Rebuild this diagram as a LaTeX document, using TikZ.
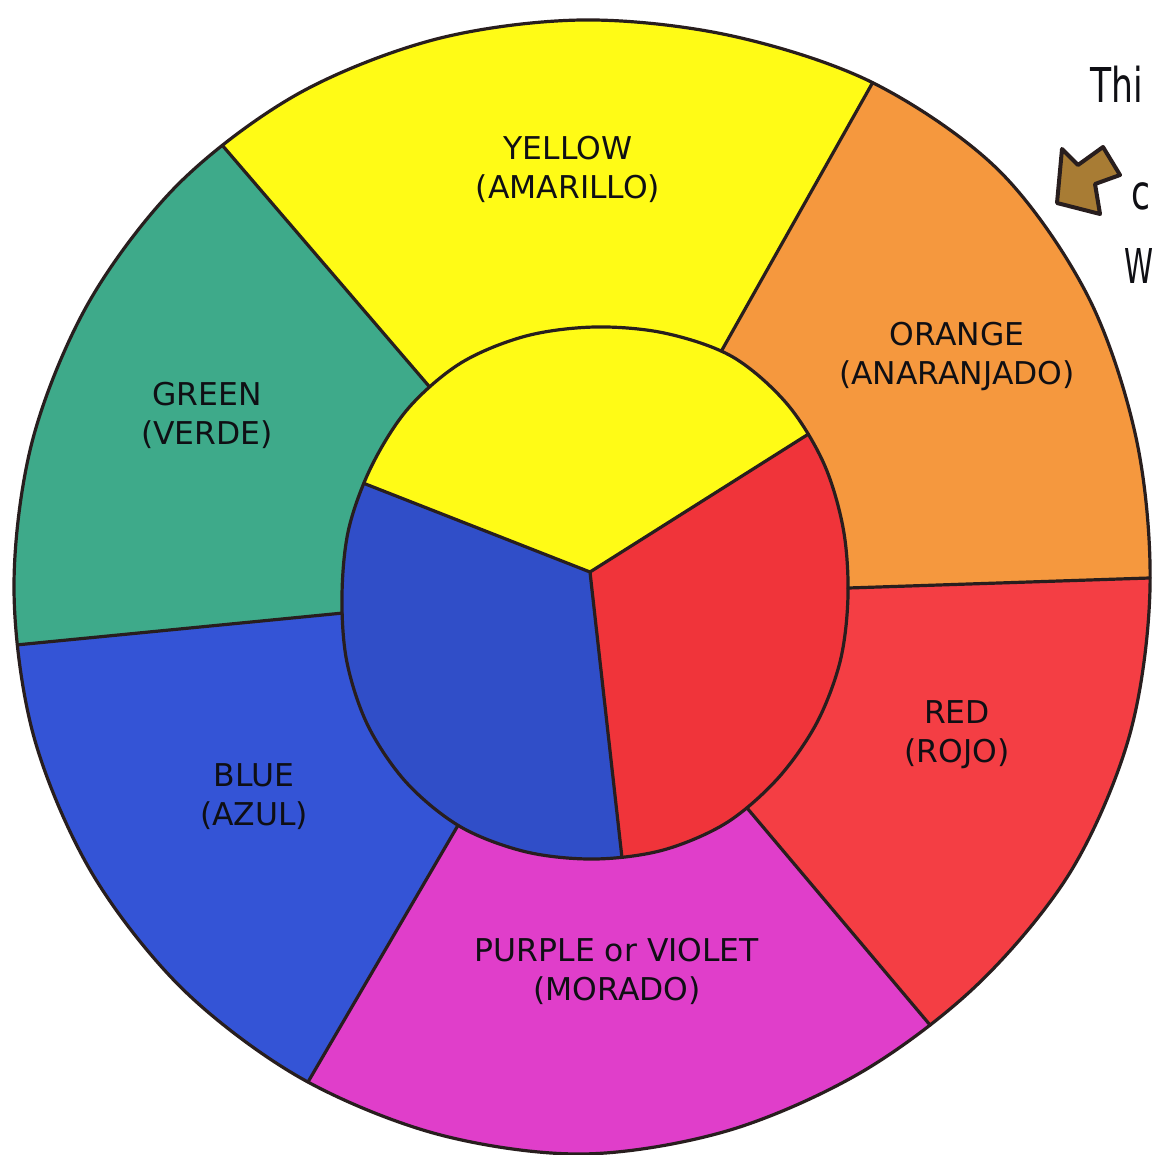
\documentclass[tikz,border=0pt]{standalone}
\usepackage{fontspec}
\setmainfont{DejaVu Sans}
\usetikzlibrary{calc,intersections}
\definecolor{cyel}{RGB}{255,251,22}
\definecolor{corg}{RGB}{245,152,62}
\definecolor{cred}{RGB}{244,62,68}
\definecolor{cpur}{RGB}{224,62,202}
\definecolor{cblu}{RGB}{52,84,214}
\definecolor{cgrn}{RGB}{62,170,138}
\definecolor{ired}{RGB}{240,52,58}
\definecolor{iblu}{RGB}{48,78,200}
\definecolor{linec}{RGB}{40,30,30}
\definecolor{labelc}{RGB}{15,15,20}
\definecolor{arrowc}{RGB}{168,124,52}
\begin{document}
\begin{tikzpicture}[x=0.5pt,y=-0.5pt,
  edge/.style={draw=linec, line width=1.6pt, line join=round, line cap=round},
  lbl/.style={font=\fontsize{15.7}{19.5}\selectfont, align=center, text=labelc, inner sep=0pt},
  hand/.style={font=\fontsize{24}{28}\selectfont, text=labelc, inner sep=0pt, anchor=base west, xscale=0.72}]
\useasboundingbox (0,0) rectangle (1152,1155);
\fill[white] (0,0) rectangle (1152,1155);
\clip (0,0) rectangle (1152,1155);

% wheel outlines (paths only, for intersections)
\path[name path=outer] plot[smooth cycle, tension=0.55] coordinates {(1150,588) (1129.7,734.7) (1071.3,870.5) (978,984) (861.5,1072.1) (727.4,1130.8) (582,1154) (435.8,1133.7) (299.5,1077.3) (181.8,988.2) (91,871.5) (33.4,735) (14,588) (32.4,440.7) (88.4,303) (178.2,184.2) (297,94.4) (435,39.4) (582,20) (730,35.5) (873.5,83.1) (999.2,170.8) (1087.8,296) (1136.4,439.4)};
\path[name path=inner] plot[smooth cycle, tension=0.55] coordinates {(848,595) (840.3,660.7) (816.7,723) (778.1,778.1) (726.5,822.8) (663.3,850) (595,859) (526.2,851.9) (461,827.1) (406.9,783.1) (368.1,726) (346.8,661.5) (342,595) (348.7,529) (371.6,466) (408.3,408.3) (461,362.9) (525.6,336.1) (595,327) (665.1,333.2) (732.5,356.8) (786.6,403.4) (823.6,463) (843.2,528.5)};

% spoke guides: measured points on each dividing line
\coordinate (C) at (582,588);
\coordinate (p1) at (222,145);  \coordinate (q1) at (428,385);
\coordinate (p2) at (873,82);   \coordinate (q2) at (722,350);
\coordinate (p3) at (1150,578); \coordinate (q3) at (848,588);
\coordinate (p4) at (930,1025); \coordinate (q4) at (747,808);
\coordinate (p5) at (308,1082); \coordinate (q5) at (457,827);
\coordinate (p6) at (16,645);   \coordinate (q6) at (343,613);
\foreach \k in {1,...,6}{
  \path[name path=sa\k] ($(q\k)!-0.4!(p\k)$) -- ($(q\k)!0.5!(p\k)$);
  \path[name path=sb\k] ($(q\k)!0.5!(p\k)$) -- ($(q\k)!1.5!(p\k)$);
  \path[name intersections={of=inner and sa\k, by={i\k}}];
  \path[name intersections={of=outer and sb\k, by={o\k}}];
  \coordinate (e\k) at ($(i\k)!1.8!(o\k)$);
}

% inner dividing lines
\coordinate (J) at (590,572);
\coordinate (gyb) at (363,483);
\coordinate (gyr) at (807,435);
\coordinate (gbr) at (622,858);
\path[name path=tyb] (J) -- ($(J)!1.5!(gyb)$);
\path[name path=tyr] (J) -- ($(J)!1.5!(gyr)$);
\path[name path=tbr] (J) -- ($(J)!1.5!(gbr)$);
\path[name intersections={of=inner and tyb, by={yb}}];
\path[name intersections={of=inner and tyr, by={yr}}];
\path[name intersections={of=inner and tbr, by={br}}];
\coordinate (eyb) at ($(J)!2!(yb)$);
\coordinate (eyr) at ($(J)!2!(yr)$);
\coordinate (ebr) at ($(J)!2!(br)$);

% outer sectors
\begin{scope}
\clip plot[smooth cycle, tension=0.55] coordinates {(1150,588) (1129.7,734.7) (1071.3,870.5) (978,984) (861.5,1072.1) (727.4,1130.8) (582,1154) (435.8,1133.7) (299.5,1077.3) (181.8,988.2) (91,871.5) (33.4,735) (14,588) (32.4,440.7) (88.4,303) (178.2,184.2) (297,94.4) (435,39.4) (582,20) (730,35.5) (873.5,83.1) (999.2,170.8) (1087.8,296) (1136.4,439.4)};
\fill[cyel] (C) -- (i1) -- (e1) -- (-100,-600) -- (1100,-600) -- (e2) -- (i2) -- cycle;
\fill[corg] (C) -- (i2) -- (e2) -- (1100,-600) -- (1800,-600) -- (1800,570) -- (e3) -- (i3) -- cycle;
\fill[cred] (C) -- (i3) -- (e3) -- (1800,570) -- (1800,1800) -- (1200,1800) -- (e4) -- (i4) -- cycle;
\fill[cpur] (C) -- (i4) -- (e4) -- (1200,1800) -- (100,1800) -- (e5) -- (i5) -- cycle;
\fill[cblu] (C) -- (i5) -- (e5) -- (100,1800) -- (-600,1800) -- (-600,671) -- (e6) -- (i6) -- cycle;
\fill[cgrn] (C) -- (i6) -- (e6) -- (-600,671) -- (-600,-600) -- (-100,-600) -- (e1) -- (i1) -- cycle;
\end{scope}

% inner sectors
\begin{scope}
\clip plot[smooth cycle, tension=0.55] coordinates {(848,595) (840.3,660.7) (816.7,723) (778.1,778.1) (726.5,822.8) (663.3,850) (595,859) (526.2,851.9) (461,827.1) (406.9,783.1) (368.1,726) (346.8,661.5) (342,595) (348.7,529) (371.6,466) (408.3,408.3) (461,362.9) (525.6,336.1) (595,327) (665.1,333.2) (732.5,356.8) (786.6,403.4) (823.6,463) (843.2,528.5)};
\fill[cyel] (J) -- (eyb) -- (100,100) -- (1100,100) -- (eyr) -- cycle;
\fill[ired] (J) -- (eyr) -- (1100,100) -- (1100,1200) -- (ebr) -- cycle;
\fill[iblu] (J) -- (ebr) -- (100,1200) -- (100,100) -- (eyb) -- cycle;
\end{scope}

% lines
\draw[edge] plot[smooth cycle, tension=0.55] coordinates {(848,595) (840.3,660.7) (816.7,723) (778.1,778.1) (726.5,822.8) (663.3,850) (595,859) (526.2,851.9) (461,827.1) (406.9,783.1) (368.1,726) (346.8,661.5) (342,595) (348.7,529) (371.6,466) (408.3,408.3) (461,362.9) (525.6,336.1) (595,327) (665.1,333.2) (732.5,356.8) (786.6,403.4) (823.6,463) (843.2,528.5)};
\draw[edge] (J) -- (yb);
\draw[edge] (J) -- (yr);
\draw[edge] (J) -- (br);
\foreach \k in {1,...,6}{ \draw[edge] (i\k) -- (o\k); }
\draw[edge] plot[smooth cycle, tension=0.55] coordinates {(1150,588) (1129.7,734.7) (1071.3,870.5) (978,984) (861.5,1072.1) (727.4,1130.8) (582,1154) (435.8,1133.7) (299.5,1077.3) (181.8,988.2) (91,871.5) (33.4,735) (14,588) (32.4,440.7) (88.4,303) (178.2,184.2) (297,94.4) (435,39.4) (582,20) (730,35.5) (873.5,83.1) (999.2,170.8) (1087.8,296) (1136.4,439.4)};

% labels
\node[lbl] (tyellow) at (568,169) {YELLOW\\(AMARILLO)};
\node[lbl] (torange) at (957,356) {ORANGE\\(ANARANJADO)};
\node[lbl] (tgreen) at (207,415) {GREEN\\(VERDE)};
\node[lbl] (tred) at (957,735) {RED\\(ROJO)};
\node[lbl] (tblue) at (254,797) {BLUE\\(AZUL)};
\node[lbl] (tpurple) at (617,971) {PURPLE or VIOLET\\(MORADO)};

% handwritten note (cut off at the edge)
\node[hand] (hthis) at (1090,103) {Thi};
\node[hand] (hc) at (1131,210) {c};
\node[hand, xscale=0.85] (hw) at (1124,283) {W};

% arrow
\coordinate (a1) at (1057,203);
\coordinate (a2) at (1062,149);
\coordinate (a3) at (1078,165);
\coordinate (a4) at (1103,147);
\coordinate (a5) at (1120,175);
\coordinate (a6) at (1095,184);
\coordinate (a7) at (1100,214);
\draw[draw=linec, line width=2pt, fill=arrowc, line join=round] (a1) -- (a2) -- (a3) -- (a4) -- (a5) -- (a6) -- (a7) -- cycle;
\end{tikzpicture}
\end{document}
